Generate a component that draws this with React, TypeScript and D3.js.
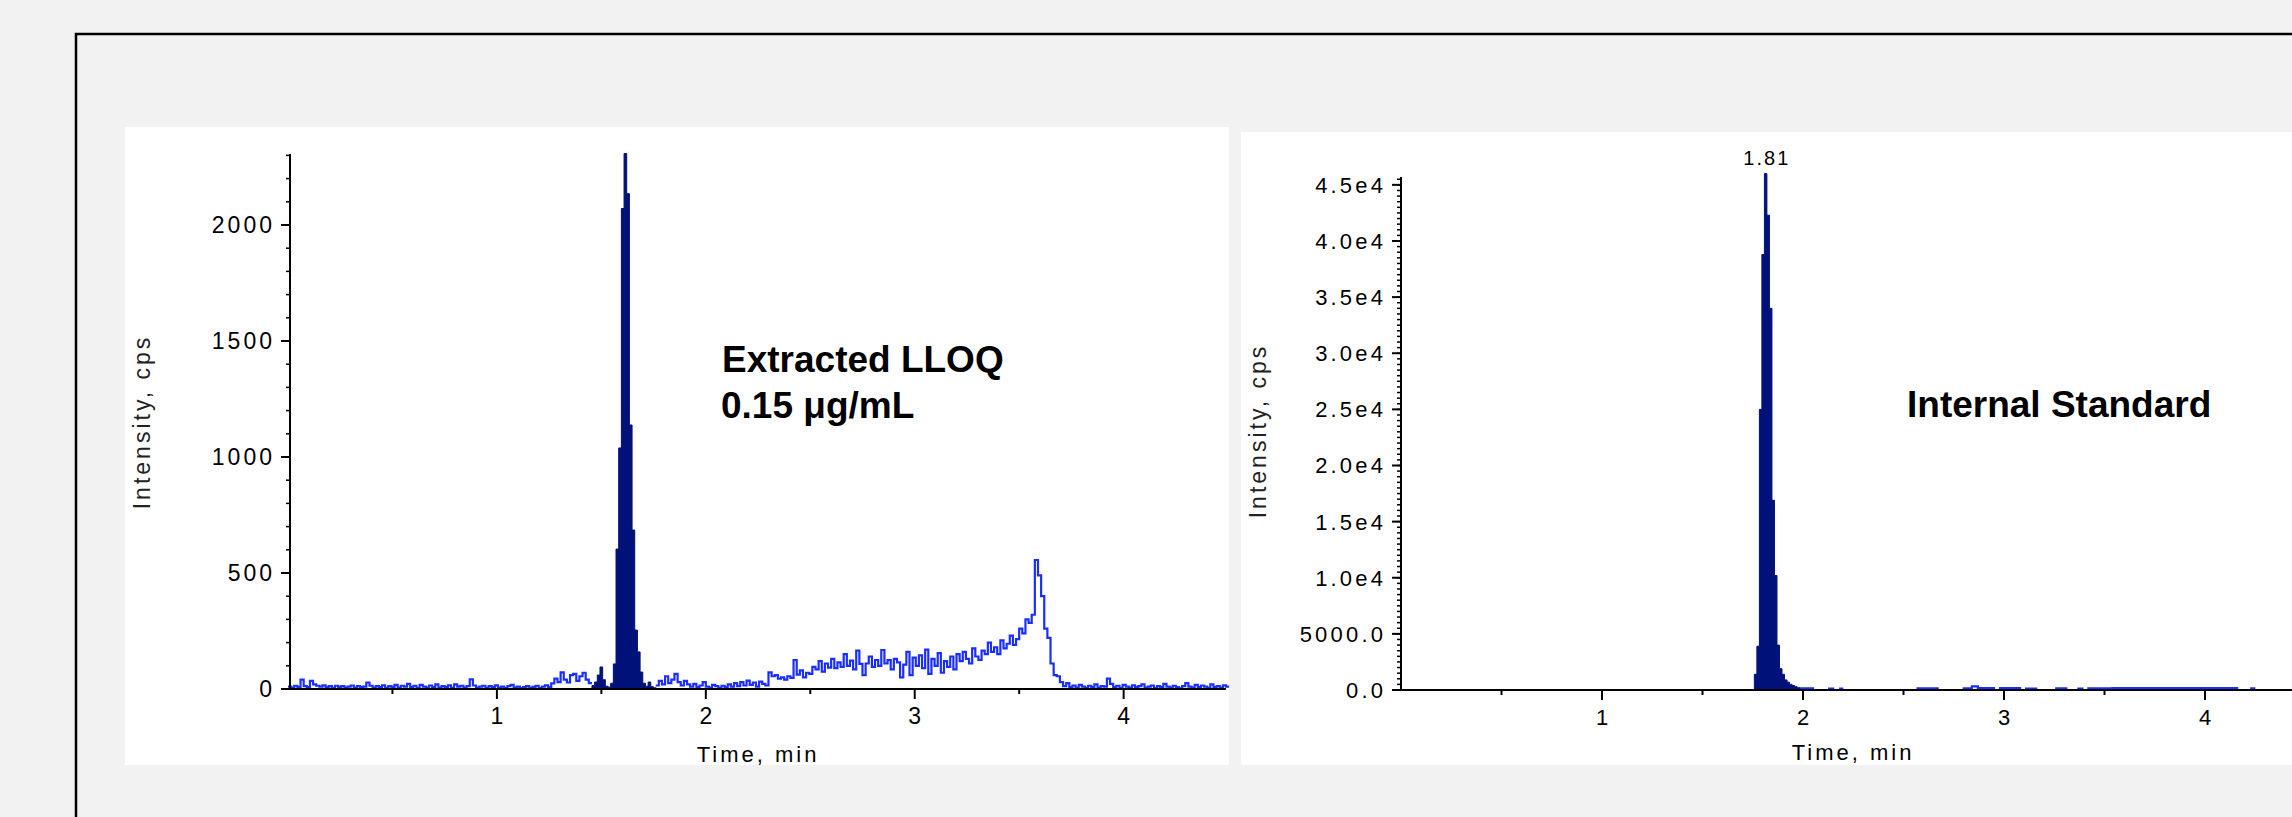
import React from "react";
import * as d3 from "d3";

const W = 2292;
const H = 817;

// ---- Extracted LLOQ chromatogram (left) ----
// blue trace before the integrated peak, one value every 0.015 min from 0
const lloqPreStart = 0;
const lloqPreStep = 0.015;
const lloqPre = [
  10, 6, 14, 8, 40, 12, 8, 35, 20, 14,
  10, 16, 8, 12, 5, 14, 9, 12, 6, 10,
  15, 6, 12, 8, 10, 28, 14, 6, 12, 8,
  16, 5, 12, 9, 18, 6, 14, 10, 22, 8,
  14, 5, 18, 10, 6, 15, 8, 20, 6, 12,
  8, 16, 5, 20, 10, 14, 6, 12, 42, 15,
  6, 10, 14, 5, 12, 8, 16, 6, 10, 4,
  12, 18, 6, 10, 4, 8, 12, 5, 9, 14,
  4, 10, 16, 8, 24, 45, 30, 72, 40, 28,
  60, 65, 35, 55, 70, 40, 25,
];

// integrated (filled) region, one value every 0.0128 min
const lloqPeakStart = 1.455;
const lloqPeakStep = 0.0128;
const lloqPeak = [
  15, 30, 60, 95, 40, 12, 8, 25, 108, 603, 1039, 2071, 2308, 2135, 1138, 685,
  254, 160, 73, 25, 12, 30, 10, 5,
];

// blue trace after the peak, one value every 0.015 min
const lloqPostStart = 1.76;
const lloqPostStep = 0.015;
const lloqPost = [
  15, 35, 20, 55, 25, 40, 65, 30, 15, 35, 20, 10,
  22, 8, 15, 30, 10, 6, 18, 12, 5, 14, 8, 20, 10, 25, 12, 30, 15, 36, 18, 28, 10, 32, 22, 15,
  72, 55, 60, 45, 50, 40, 55, 48, 125, 62,
  80, 50, 70, 65, 95, 85, 120, 75, 110, 92,
  130, 90, 115, 95, 150, 100, 122, 85, 165, 108,
  60, 110, 140, 95, 125, 100, 168, 110, 125, 85,
  130, 115, 50, 105, 160, 60, 135, 100, 145, 90,
  170, 65, 130, 100, 155, 70, 120, 95, 140, 85,
  150, 120, 160, 130, 110, 175, 140, 125, 165, 150,
  200, 160, 180, 150, 210, 175, 195, 230, 190, 215,
  260, 240, 300, 285, 320, 556, 490, 400, 260, 220,
  110, 60, 55, 30, 12, 25, 8, 15, 6, 18,
  10, 5, 14, 8, 20, 6, 12, 10, 45, 22,
  8, 14, 5, 18, 10, 6, 16, 8, 12, 20,
  6, 10, 15, 5, 12, 8, 22, 10, 6, 14,
  8, 3, 12, 25, 10, 6, 18, 8, 15, 10,
  5, 20, 8, 12, 6, 16, 10,
];

const lloqYTicks = [0, 500, 1000, 1500, 2000];
const lloqYLabels = ["0", "500", "1000", "1500", "2000"];
const lloqYMinor = d3.range(0, 2301, 100);

// ---- Internal standard chromatogram (right) ----
const isPeakStart = 1.758;
const isPeakStep = 0.0125;
const isPeak = [
  1400, 3900, 25000, 38800, 46000, 42300, 34000, 16900, 10200, 4000, 1900,
  1400, 900, 700, 500, 400, 300, 200,
];

// blue trace near the baseline, value changes (step after) at these times
const isTraceTimes = [
  0, 1.985, 2.05, 2.13, 2.15, 2.185, 2.195, 2.57, 2.67, 2.8, 2.84, 2.87, 2.95,
  2.98, 3.08, 3.11, 3.16, 3.26, 3.31, 3.37, 3.39, 3.42, 3.53, 3.54, 4.16, 4.23,
  4.245, 4.5,
];
const isTraceValues = [
  0, 150, 0, 120, 0, 120, 0, 140, 0, 150, 330, 180, 0, 160, 0, 130, 0, 140, 0,
  120, 0, 150, 0, 160, 0, 140, 0, 0,
];

const isYTicks = [0, 5000, 10000, 15000, 20000, 25000, 30000, 35000, 40000, 45000];
const isYLabels = ["0.0", "5000.0", "1.0e4", "1.5e4", "2.0e4", "2.5e4", "3.0e4", "3.5e4", "4.0e4", "4.5e4"];
const isYMinor = d3.range(0, 45501, 500);

const timeTicks = [1, 2, 3, 4];
const timeLabels = ["1", "2", "3", "4"];
const timeMinor = [0.5, 1.5, 2.5, 3.5];

const NAVY = "#00127a";
const BLUE = "#1a2eff";
const FONT = "'Liberation Sans', Arial, sans-serif";

type Pt = [number, number];

function toPoints(start: number, step: number, values: number[]): Pt[] {
  const pts: Pt[] = values.map((v, i) => [start + i * step, v]);
  pts.push([start + values.length * step, values[values.length - 1]]);
  return pts;
}

function Chromatogram(props: any) {
  const { x, y, axisX, axisY, xAxisFrom, xAxisTo, yMajor, yLabels, yMinor, traces, peak, fs, ls } = props;
  const line = d3
    .line<Pt>()
    .x((d) => x(d[0]))
    .y((d) => y(d[1]))
    .curve(d3.curveStepAfter);
  const area = d3
    .area<Pt>()
    .x((d) => x(d[0]))
    .y0(y(0))
    .y1((d) => y(d[1]))
    .curve(d3.curveStepAfter);
  const yTop = y.range()[1];
  return (
    <g>
      {traces.map((t: Pt[], i: number) => (
        <path key={i} d={line(t) || ""} fill="none" stroke={BLUE} strokeWidth={2.2} />
      ))}
      <path d={area(peak) || ""} fill={NAVY} stroke={NAVY} strokeWidth={1} />
      {/* y axis */}
      <line x1={axisX} x2={axisX} y1={axisY + 1} y2={yTop} stroke="#000" strokeWidth={2} />
      {yMinor.map((v: number) => (
        <line key={"m" + v} x1={axisX - 4} x2={axisX} y1={y(v)} y2={y(v)} stroke="#000" strokeWidth={1.5} />
      ))}
      {yMajor.map((v: number, i: number) => (
        <g key={"M" + v}>
          <line x1={axisX - 9} x2={axisX} y1={y(v)} y2={y(v)} stroke="#000" strokeWidth={2} />
          <text
            x={axisX - 18 + ls}
            y={y(v)}
            dy="0.36em"
            textAnchor="end"
            fontSize={fs}
            letterSpacing={ls}
            fontFamily={FONT}
            fill="#000"
          >
            {yLabels[i]}
          </text>
        </g>
      ))}
      {/* x axis */}
      <line x1={xAxisFrom} x2={xAxisTo} y1={axisY} y2={axisY} stroke="#000" strokeWidth={2} />
      {timeMinor.map((t) => (
        <line key={"xm" + t} x1={x(t)} x2={x(t)} y1={axisY} y2={axisY + 5} stroke="#000" strokeWidth={2} />
      ))}
      {timeTicks.map((t, i) => (
        <g key={"xt" + t}>
          <line x1={x(t)} x2={x(t)} y1={axisY} y2={axisY + 10} stroke="#000" strokeWidth={2} />
          <text
            x={x(t) + ls / 2}
            y={axisY + 27}
            dy="0.36em"
            textAnchor="middle"
            fontSize={fs}
            letterSpacing={ls}
            fontFamily={FONT}
            fill="#000"
          >
            {timeLabels[i]}
          </text>
        </g>
      ))}
    </g>
  );
}

export default function App() {
  const xL = d3.scaleLinear().domain([0, 4.49]).range([288, 1226]);
  const yL = d3.scaleLinear().domain([0, 2306]).range([689, 154]);
  const xR = d3.scaleLinear().domain([0, 4.5]).range([1401, 1401 + 4.5 * 201]);
  const yR = d3.scaleLinear().domain([0, 45700]).range([690, 177]);

  const lloqTraces = [
    toPoints(lloqPreStart, lloqPreStep, lloqPre),
    toPoints(lloqPostStart, lloqPostStep, lloqPost),
  ];
  const lloqArea = toPoints(lloqPeakStart, lloqPeakStep, lloqPeak);
  const isTrace: Pt[] = isTraceTimes.map((t, i) => [t, isTraceValues[i]]);
  const isArea = toPoints(isPeakStart, isPeakStep, isPeak);

  const labelFs = 23;
  const labelLs = 3;

  return (
    <div style={{ position: "absolute", left: 0, top: 0 }}>
      <svg width={W} height={H} style={{ display: "block", overflow: "hidden" }}>
        <rect x={0} y={0} width={W} height={H} fill="#f2f2f2" />
        <rect x={76} y={34} width={W} height={H} fill="none" stroke="#000" strokeWidth={2.5} />
        <rect x={125} y={127} width={1104} height={638} fill="#fff" />
        <rect x={1241} y={132} width={W - 1241} height={633} fill="#fff" />

        <Chromatogram
          x={xL}
          y={yL}
          axisX={290}
          axisY={689}
          xAxisFrom={282}
          xAxisTo={1226}
          yMajor={lloqYTicks}
          yLabels={lloqYLabels}
          yMinor={lloqYMinor}
          traces={lloqTraces}
          peak={lloqArea}
          fs={23}
          ls={3}
        />
        <Chromatogram
          x={xR}
          y={yR}
          axisX={1401}
          axisY={690}
          xAxisFrom={1392}
          xAxisTo={W}
          yMajor={isYTicks}
          yLabels={isYLabels}
          yMinor={isYMinor}
          traces={[isTrace]}
          peak={isArea}
          fs={22}
          ls={3.2}
        />

        {/* axis titles */}
        <text
          transform={`translate(150,422) rotate(-90)`}
          textAnchor="middle"
          fontSize={labelFs}
          letterSpacing={labelLs}
          fontFamily={FONT}
          fill="#222"
        >
          Intensity, cps
        </text>
        <text x={758} y={754} dy="0.36em" textAnchor="middle" fontSize={22} letterSpacing={labelLs} fontFamily={FONT} fill="#000">
          Time, min
        </text>
        <text
          transform={`translate(1266,431) rotate(-90)`}
          textAnchor="middle"
          fontSize={labelFs}
          letterSpacing={labelLs}
          fontFamily={FONT}
          fill="#222"
        >
          Intensity, cps
        </text>
        <text x={1853} y={752} dy="0.36em" textAnchor="middle" fontSize={22} letterSpacing={labelLs} fontFamily={FONT} fill="#000">
          Time, min
        </text>

        {/* peak apex label */}
        <text x={xR(1.815) + 1} y={158} dy="0.36em" textAnchor="middle" fontSize={20} letterSpacing={2} fontFamily={FONT} fill="#000">
          1.81
        </text>

        {/* annotations */}
        <text x={722} y={372} fontSize={37} fontWeight="bold" fontFamily={FONT} fill="#000">
          Extracted LLOQ
        </text>
        <text x={721} y={418} fontSize={37} fontWeight="bold" fontFamily={FONT} fill="#000">
          0.15 μg/mL
        </text>
        <text x={1907} y={417} fontSize={37} fontWeight="bold" fontFamily={FONT} fill="#000">
          Internal Standard
        </text>
      </svg>
    </div>
  );
}
